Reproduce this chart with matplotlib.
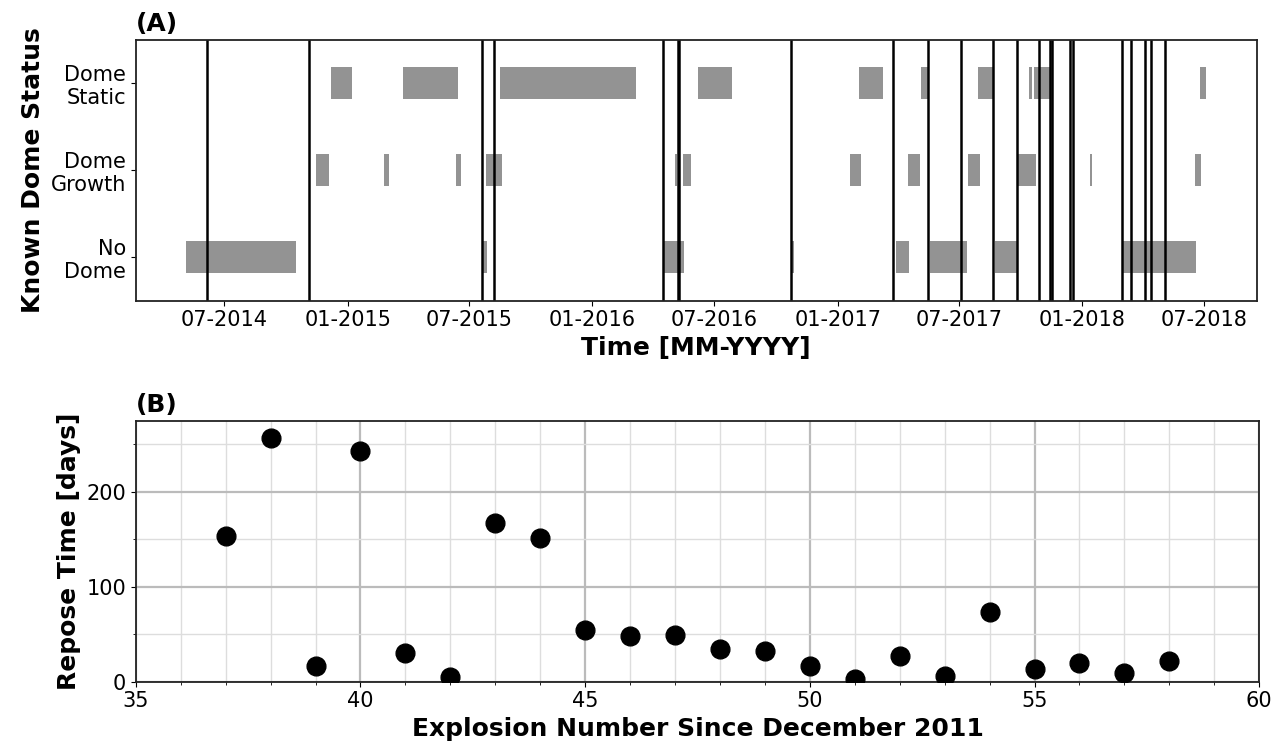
import numpy as np
import matplotlib
matplotlib.use('Agg')
import matplotlib.pyplot as plt
import matplotlib.dates as mdates
from matplotlib.ticker import MultipleLocator
from datetime import datetime

# explosion times (explosions 36 to 58), drawn as vertical lines in (A)
explosionDates = ['2014-06-05', '2014-11-05', '2015-07-21', '2015-08-07',
                  '2016-04-16', '2016-05-08', '2016-05-10', '2016-10-24',
                  '2017-03-24', '2017-05-16', '2017-07-04', '2017-08-21',
                  '2017-09-26', '2017-10-28', '2017-11-14', '2017-11-17',
                  '2017-12-13', '2017-12-18', '2018-03-01', '2018-03-15',
                  '2018-04-04', '2018-04-13', '2018-05-05']

# known dome status periods
noDomeStart = ['2014-05-05', '2015-07-22', '2016-04-17', '2016-10-24', '2017-03-29',
               '2017-05-18', '2017-08-24', '2018-03-02']
noDomeEnd = ['2014-10-16', '2015-07-28', '2016-05-17', '2016-10-28', '2017-04-17',
             '2017-07-13', '2017-09-25', '2018-06-20']

growthStart = ['2014-11-15', '2015-02-25', '2015-06-11', '2015-07-26', '2016-05-03',
               '2016-05-16', '2017-01-20', '2017-04-16', '2017-07-15', '2017-09-27',
               '2018-01-12', '2018-06-18']
growthEnd = ['2014-12-04', '2015-03-04', '2015-06-19', '2015-08-20', '2016-05-06',
             '2016-05-27', '2017-02-05', '2017-05-04', '2017-08-02', '2017-10-24',
             '2018-01-15', '2018-06-27']

staticStart = ['2014-12-07', '2015-03-25', '2015-08-17', '2016-06-06', '2017-02-02',
               '2017-05-06', '2017-07-30', '2017-10-14', '2017-10-21', '2018-06-25']
staticEnd = ['2015-01-08', '2015-06-14', '2016-03-06', '2016-07-27', '2017-03-10',
             '2017-05-15', '2017-08-21', '2017-10-18', '2017-11-13', '2018-07-05']

statusLabels = ['No\nDome', 'Dome\nGrowth', 'Dome\nStatic']

# repose time before each explosion, panel (B)
explosionNumber = [37, 38, 39, 40, 41, 42, 43, 44, 45, 46, 47,
                   48, 49, 50, 51, 52, 53, 54, 55, 56, 57, 58]
reposeDays = [154, 257, 17, 243, 30, 5, 167, 151, 54, 48, 49,
              35, 32, 17, 3, 27, 6, 74, 13, 20, 9, 22]


def toNum(dates):
    return mdates.date2num([datetime.strptime(d, '%Y-%m-%d') for d in dates])


def drawPeriods(ax, row, starts, ends):
    s = toNum(starts)
    e = toNum(ends)
    ax.barh([row] * len(s), e - s, left=s, height=0.37, color='#939393', zorder=1)


plt.rcParams['font.family'] = 'DejaVu Sans'
fig = plt.figure(figsize=(12.81, 7.5), dpi=100)
ax1 = fig.add_axes([0.106, 0.599, 0.875, 0.348])
ax2 = fig.add_axes([0.106, 0.091, 0.877, 0.348])

# (A) dome status
drawPeriods(ax1, 0, noDomeStart, noDomeEnd)
drawPeriods(ax1, 1, growthStart, growthEnd)
drawPeriods(ax1, 2, staticStart, staticEnd)
for d in toNum(explosionDates):
    ax1.axvline(d, color='black', lw=1.8, zorder=2)

ax1.set_ylim(-0.5, 2.5)
ax1.set_yticks([0, 1, 2])
ax1.set_yticklabels(statusLabels)
ax1.set_xlim(toNum(['2014-02-19', '2018-09-18']))
ax1.xaxis.set_major_locator(mdates.MonthLocator(bymonth=[1, 7]))
ax1.xaxis.set_major_formatter(mdates.DateFormatter('%m-%Y'))
ax1.tick_params(labelsize=15)
ax1.set_xlabel('Time [MM-YYYY]', fontsize=18, fontweight='bold')
ax1.set_ylabel('Known Dome Status', fontsize=18, fontweight='bold')
ax1.set_title('(A)', loc='left', fontsize=18, fontweight='bold')

# (B) repose times
ax2.plot(explosionNumber, reposeDays, 'o', color='black', ms=13.5, zorder=3)
ax2.set_xlim(35, 60)
ax2.set_ylim(0, 275)
ax2.xaxis.set_major_locator(MultipleLocator(5))
ax2.xaxis.set_minor_locator(MultipleLocator(1))
ax2.yaxis.set_major_locator(MultipleLocator(100))
ax2.yaxis.set_minor_locator(MultipleLocator(50))
ax2.grid(which='major', color='#bbbbbb', lw=1.6)
ax2.grid(which='minor', color='#dddddd', lw=1.0)
ax2.set_axisbelow(True)
ax2.tick_params(labelsize=15)
ax2.set_xlabel('Explosion Number Since December 2011', fontsize=18, fontweight='bold')
ax2.set_ylabel('Repose Time [days]', fontsize=18, fontweight='bold')
ax2.set_title('(B)', loc='left', fontsize=18, fontweight='bold')

for ax in [ax1, ax2]:
    for sp in ax.spines.values():
        sp.set_linewidth(1.3)
        sp.set_color('#222222')

fig.savefig('out.png', dpi=100)
